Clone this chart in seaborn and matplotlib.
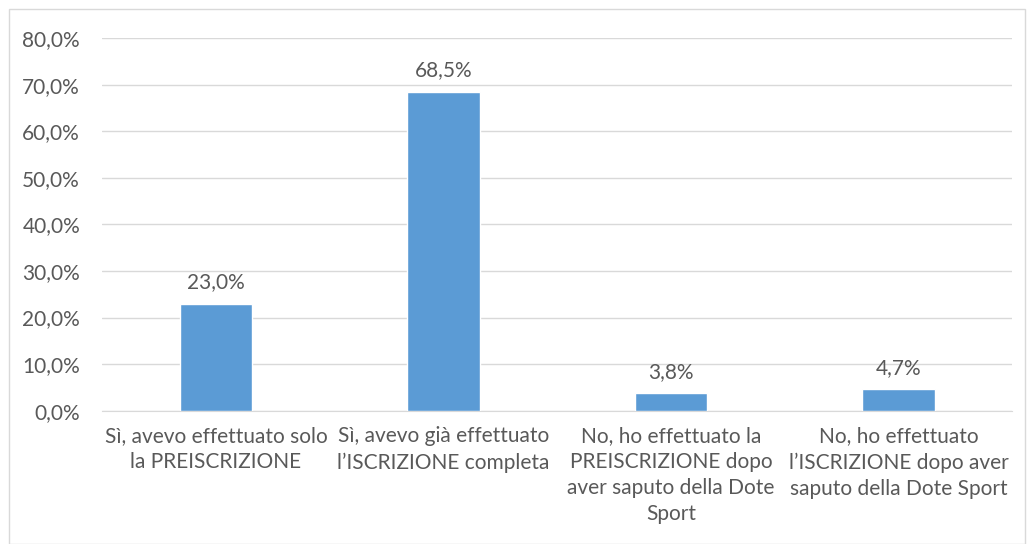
import matplotlib
matplotlib.use("Agg")
import matplotlib.pyplot as plt
import seaborn as sns
import pandas as pd
from matplotlib.patches import Rectangle
from matplotlib.ticker import FuncFormatter

categories = [
    "Sì, avevo effettuato solo\nla PREISCRIZIONE",
    "Sì, avevo già effettuato\nl’ISCRIZIONE completa",
    "No, ho effettuato la\nPREISCRIZIONE dopo\naver saputo della Dote\nSport",
    "No, ho effettuato\nl’ISCRIZIONE dopo aver\nsaputo della Dote Sport",
]
values = [23.0, 68.5, 3.8, 4.7]

sns.set_style("white")
plt.rcParams["font.family"] = ["Lato", "DejaVu Sans"]
text_col = "#595959"
bar_col = "#5B9BD5"
grid_col = "#D9D9D9"

df = pd.DataFrame({"cat": categories, "val": values})

fig = plt.figure(figsize=(10.33, 5.44), dpi=100)
ax = fig.add_axes([0.099, 0.245, 0.881, 0.685])

sns.barplot(data=df, x="cat", y="val", color=bar_col, width=0.32,
            saturation=1, ax=ax, zorder=3)

ax.set_ylim(0, 80)
ax.set_yticks(range(0, 81, 10))
ax.yaxis.set_major_formatter(FuncFormatter(lambda v, p: f"{v:.1f}%".replace(".", ",")))
ax.set_xlim(-0.5, len(categories) - 0.5)
ax.grid(axis="y", color=grid_col, linewidth=1, zorder=0)
for s in ["top", "right", "left"]:
    ax.spines[s].set_visible(False)
ax.spines["bottom"].set_color(grid_col)
ax.tick_params(axis="both", length=0, labelsize=15, colors=text_col)
ax.tick_params(axis="x", pad=11)
ax.tick_params(axis="y", pad=16)
for lbl in ax.get_xticklabels():
    lbl.set_linespacing(1.38)
ax.set_xlabel("")
ax.set_ylabel("")

for i, v in enumerate(values):
    ax.annotate(f"{v:.1f}%".replace(".", ","), (i, v), xytext=(0, 8),
                textcoords="offset points", ha="center", va="bottom",
                fontsize=15, color=text_col)

fig.patches.append(Rectangle((0.009, 0.0), 0.983, 0.983, transform=fig.transFigure,
                             fill=False, edgecolor=grid_col, linewidth=1))

fig.savefig("out.png", dpi=100)
